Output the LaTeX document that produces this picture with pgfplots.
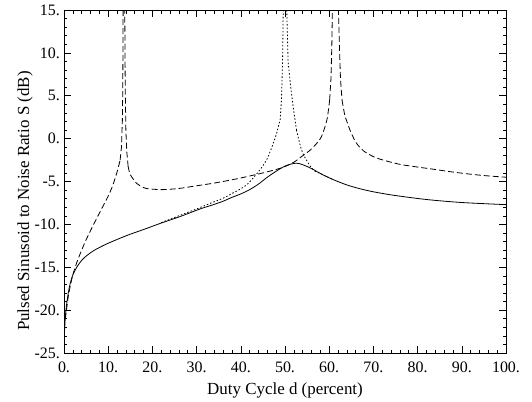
\documentclass[border=0pt]{standalone}
\usepackage{fontspec}
\setmainfont{Liberation Serif}
\usepackage{pgfplots}
\pgfplotsset{compat=1.18}
\begin{document}
\begin{tikzpicture}
\begin{axis}[
  scale only axis, width=442bp, height=343bp,
  xmin=0, xmax=100, ymin=-25, ymax=15,
  xtick={0,10,...,100},
  xticklabels={0.,10.,20.,30.,40.,50.,60.,70.,80.,90.,100.},
  ytick={-25,-20,...,15},
  yticklabels={-25.,-20.,-15.,-10.,-5.,0.,5.,10.,15.},
  minor x tick num=4, minor y tick num=4,
  tick align=inside, major tick length=7bp, minor tick length=3.5bp,
  tick style={black, line width=0.6bp},
  axis line style={line width=0.9bp},
  ticklabel style={font=\fontsize{16}{16}\selectfont},
  xticklabel style={anchor=base, yshift=-19bp},
  yticklabel style={anchor=east, inner sep=0pt, xshift=-4bp},
  label style={font=\fontsize{17}{17}\selectfont},
  xlabel={Duty Cycle d (percent)},
  ylabel={Pulsed Sinusoid to Noise Ratio S (dB)},
  xlabel style={at={(axis description cs:0.5,-0.1224)}, anchor=base},
  ylabel style={at={(axis description cs:-0.088,0.443)}, anchor=center},
  dsh/.style={black, line width=0.8bp, dash pattern=on 6bp off 3bp},
  dtt/.style={black, line width=0.8bp, dash pattern=on 1.5bp off 2bp},
]
% solid
\addplot[black, line width=0.8bp, smooth] table {
x y
0.15 -22.3
0.3 -20.8
0.6 -19.3
1.0 -17.9
1.4 -16.9
2 -15.9
3 -14.9
4 -14.2
5 -13.7
6.6 -13.1
8 -12.7
10 -12.2
14.2 -11.3
18 -10.6
21.7 -9.9
26.2 -9.1
30.8 -8.2
33.8 -7.7
36 -7.3
38 -6.85
40 -6.45
42 -5.95
44 -5.3
46 -4.5
48 -3.8
50 -3.2
51.5 -2.95
52.5 -2.87
53.5 -2.95
55 -3.25
56.4 -3.6
58.5 -4.2
61 -4.8
64 -5.4
67 -5.85
70 -6.2
74.5 -6.6
82 -7.1
90 -7.45
100 -7.7
};
% dotted
\addplot[dtt, smooth] table {
x y
22 -9.8
26 -9.0
30 -8.2
33.8 -7.4
36 -6.95
38 -6.4
41.3 -5.4
44.3 -3.66
45.9 -2.4
47.1 -0.9
48.1 0.6
};
\addplot[dtt] table {
x y
48.1 0.6
48.9 2.2
49.2 4.5
49.45 9
49.6 15
49.8 25
50.2 25
50.4 15
50.7 9
51.3 6
51.9 3.5
52.6 1.0
};
\addplot[dtt, smooth] table {
x y
52.6 1.0
53.4 -0.7
54.1 -1.8
55.7 -3.2
56.5 -3.7
58.5 -4.2
61 -4.8
};
% dashed
\addplot[dsh, smooth] table {
x y
0.3 -21
0.6 -19.8
1.0 -18.3
1.5 -17.0
2.1 -15.7
3 -14.3
4 -13.0
5 -11.8
6.6 -10.1
8 -8.7
9 -7.7
10 -6.7
11 -5.5
12 -3.9
12.7 -2.5
};
\addplot[dsh] table {
x y
12.7 -2.5
13.0 -1.0
13.2 2
13.3 6
13.38 15
13.55 30
13.75 15
13.85 6
14.0 1
14.2 -1.5
14.5 -3.2
};
\addplot[dsh, smooth] table {
x y
14.5 -3.2
15 -4.2
16.4 -5.2
17.2 -5.5
18.5 -5.8
20.2 -5.9
22 -5.95
24 -5.9
26.2 -5.8
30 -5.5
33.8 -5.2
38 -4.8
41.3 -4.44
45 -4.0
48.1 -3.58
50 -3.25
52 -2.75
54 -2.0
56 -1.2
58 0
59 1.3
59.6 2.5
60.1 4.5
};
\addplot[dsh] table {
x y
60.1 4.5
60.4 7
60.6 11
60.75 16
61.4 35
62.05 16
62.3 11
62.55 7
62.9 4.5
};
\addplot[dsh, smooth] table {
x y
62.9 4.5
63.5 2.8
64 2.0
64.7 1.0
66 -0.4
67.7 -1.4
70 -2.1
72.2 -2.5
76 -3.0
79.8 -3.3
84 -3.6
87.3 -3.85
92 -4.15
96 -4.35
100 -4.5
};
\end{axis}
\pgfresetboundingbox
\path (-64bp,-49bp) rectangle (468bp,353bp);
\end{tikzpicture}
\end{document}
